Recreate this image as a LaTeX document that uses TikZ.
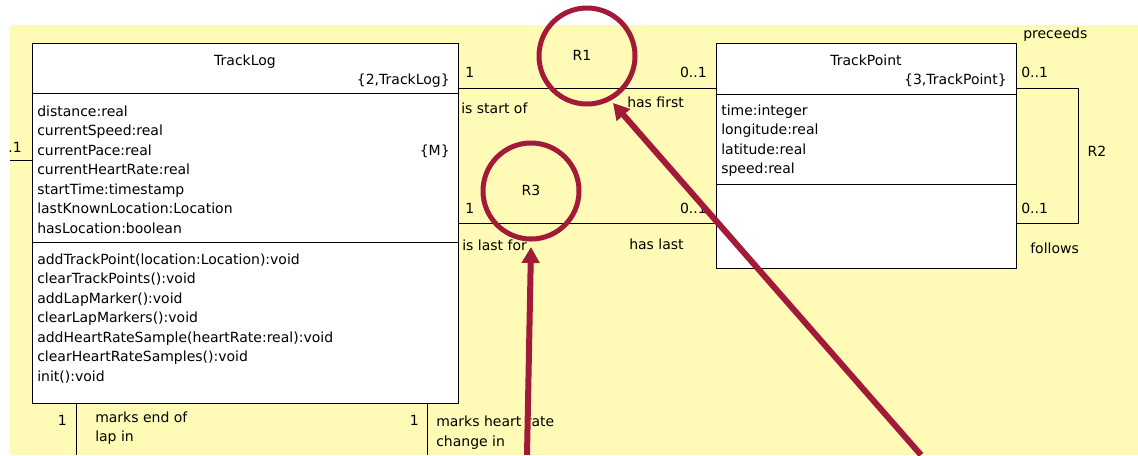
\documentclass[tikz,border=0pt]{standalone}
\usepackage{fontspec}
\setmainfont{DejaVu Sans}
\usetikzlibrary{arrows.meta}
\definecolor{paper}{RGB}{255,251,183}
\definecolor{marker}{RGB}{163,25,56}
\tikzset{
  lbl/.style={inner sep=0pt, font=\fontsize{10.5}{12}\selectfont},
  classbox/.style={draw=black, fill=white, line width=0.75pt, inner sep=0pt, anchor=north west},
  assoc/.style={draw=black, line width=0.75pt},
  ring/.style={circle, draw=marker, line width=3.75pt, minimum size=72pt, inner sep=0pt},
  pointer/.style={draw=marker, line width=4.5pt, -{Triangle[length=12pt,width=13pt]}},
}
\begin{document}
\begin{tikzpicture}[x=0.75pt,y=-0.75pt]
\useasboundingbox (0,0) rectangle (1138,455);
\fill[paper] (10,25) rectangle (1138,455);

% class boxes
\node[classbox, minimum width=319.5pt, minimum height=270pt] (tracklog) at (32,43) {};
\node[classbox, minimum width=225pt, minimum height=168.75pt] (trackpoint) at (716,43) {};
\draw[assoc] (32,93) -- (458,93);
\draw[assoc] (32,242) -- (458,242);
\draw[assoc] (716,94) -- (1016,94);
\draw[assoc] (716,184) -- (1016,184);

% association lines
\coordinate (r1) at (0,88);
\coordinate (r3) at (0,223);
\coordinate (r2corner) at (1078,88);
\coordinate (r2corner2) at (1078,223);
\coordinate (lstub) at (10,160);
\coordinate (b1) at (76,455);
\coordinate (b2) at (427.5,455);
\draw[assoc] (r1 -| tracklog.east) -- (r1 -| trackpoint.west);
\draw[assoc] (r3 -| tracklog.east) -- (r3 -| trackpoint.west);
\draw[assoc] (r1 -| trackpoint.east) -- (r2corner) -- (r2corner2) -- (r3 -| trackpoint.east);
\draw[assoc] (lstub) -- (lstub -| tracklog.west);
\draw[assoc] (b1 |- tracklog.south) -- (b1);
\draw[assoc] (b2 |- tracklog.south) -- (b2);

% TrackLog texts
\node[lbl, anchor=base] (tlname) at (245,65) {TrackLog};
\node[lbl, anchor=base east] (tlkey) at (450,84) {\{2,TrackLog\}};
\node[lbl, anchor=base east] (tlmode) at (450,155) {\{M\}};
\foreach \t [count=\i] in {distance:real, currentSpeed:real, currentPace:real,
  currentHeartRate:real, startTime:timestamp, lastKnownLocation:Location,
  hasLocation:boolean}
  \node[lbl, anchor=base west] (tla\i) at (37,{96.5+19.5*\i}) {\t};
\foreach \t [count=\i] in {addTrackPoint(location:Location):void,
  clearTrackPoints():void, addLapMarker():void, clearLapMarkers():void,
  addHeartRateSample(heartRate:real):void, clearHeartRateSamples():void,
  init():void}
  \node[lbl, anchor=base west] (tlm\i) at (37,{244.5+19.5*\i}) {\t};

% TrackPoint texts
\node[lbl, anchor=base] (tpname) at (866,65) {TrackPoint};
\node[lbl, anchor=base east] (tpkey) at (1007,84) {\{3,TrackPoint\}};
\foreach \t [count=\i] in {time:integer, longitude:real, latitude:real, speed:real}
  \node[lbl, anchor=base west] (tpa\i) at (721,{95.5+19.5*\i}) {\t};

% association labels
\node[lbl, anchor=base west] (r1m1) at (465,77) {1};
\node[lbl, anchor=base east] (r1m2) at (707,77) {0..1};
\node[lbl, anchor=base] (r1name) at (582,60) {R1};
\node[lbl, anchor=base west] (r1p1) at (461,113) {is start of};
\node[lbl, anchor=base west] (r1p2) at (627,107) {has first};
\node[lbl, anchor=base west] (r3m1) at (465,213) {1};
\node[lbl, anchor=base east] (r3m2) at (707,213) {0..1};
\node[lbl, anchor=base] (r3name) at (531,195) {R3};
\node[lbl, anchor=base west] (r3p1) at (462,250) {is last for};
\node[lbl, anchor=base west] (r3p2) at (629,249) {has last};
\node[lbl, anchor=base west] (r2m1) at (1021,77) {0..1};
\node[lbl, anchor=base west] (r2m2) at (1021,213) {0..1};
\node[lbl, anchor=base] (r2name) at (1097,156) {R2};
\node[lbl, anchor=base west] (r2p1) at (1023,38) {preceeds};
\node[lbl, anchor=base west] (r2p2) at (1030,253) {follows};
\node[lbl, anchor=base east] (lm) at (22,152) {.1};
\node[lbl, anchor=base east] (b1m) at (67,425) {1};
\node[lbl, anchor=base west] (b1p1) at (95,422) {marks end of};
\node[lbl, anchor=base west] (b1p2) at (95,441) {lap in};
\node[lbl, anchor=base east] (b2m) at (419,425) {1};
\node[lbl, anchor=base west] (b2p1) at (436,426.5) {marks heart rate};
\node[lbl, anchor=base west] (b2p2) at (436,446.5) {change in};

% highlight rings and pointers
\node[ring] (c1) at (587,56) {};
\node[ring] (c3) at (531,191) {};
\coordinate (a1s) at (921,455);
\coordinate (a1t) at (613,103);
\coordinate (a3s) at (527,455);
\coordinate (a3t) at (531,247);
\draw[pointer] (a1s) -- (a1t);
\draw[pointer] (a3s) -- (a3t);
\end{tikzpicture}
\end{document}
